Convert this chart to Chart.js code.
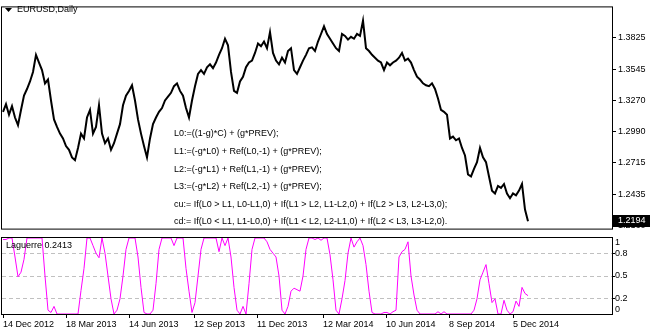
<!DOCTYPE html>
<html><head><meta charset="utf-8">
<script src="https://cdn.jsdelivr.net/npm/chart.js@4.4.1/dist/chart.umd.min.js"></script>
<style>
html,body{margin:0;padding:0;background:#fff;overflow:hidden}
#wrap{position:relative;width:650px;height:330px;background:#fff}
canvas{position:absolute;left:0}
#c1{top:0}
#c2{top:236px}
</style></head><body>
<div id="wrap"><canvas id="c1" width="650" height="236"></canvas><canvas id="c2" width="650" height="94"></canvas></div>
<script>
const symbolTitle = 'EURUSD,Daily';
const indicatorName = 'Laguerre';
const barStep = 3;
const closePrices = [
1.3165,1.3233,1.3140,1.3216,1.3115,1.3047,1.3182,1.3309,1.3368,1.3435,
1.3519,1.3671,1.3603,1.3536,1.3418,1.3452,1.3266,1.3098,1.3031,1.2972,
1.2929,1.2862,1.2828,1.2761,1.2736,1.2845,1.2972,1.2929,1.3115,1.3182,
1.2972,1.3031,1.3224,1.2972,1.2887,1.2929,1.2828,1.2887,1.2972,1.3056,
1.3224,1.3309,1.3351,1.3401,1.3266,1.3098,1.2972,1.2862,1.2761,1.2929,
1.3056,1.3115,1.3165,1.3199,1.3266,1.3300,1.3334,1.3393,1.3418,1.3351,
1.3309,1.3199,1.3115,1.3266,1.3393,1.3502,1.3536,1.3502,1.3561,1.3587,
1.3553,1.3603,1.3671,1.3730,1.3814,1.3755,1.3519,1.3351,1.3334,1.3435,
1.3477,1.3561,1.3603,1.3620,1.3688,1.3772,1.3747,1.3789,1.3730,1.3873,
1.3688,1.3620,1.3587,1.3646,1.3603,1.3705,1.3730,1.3536,1.3502,1.3561,
1.3620,1.3671,1.3730,1.3738,1.3705,1.3789,1.3856,1.3924,1.3856,1.3814,
1.3772,1.3730,1.3705,1.3856,1.3839,1.3806,1.3831,1.3814,1.3856,1.3839,
1.3974,1.3730,1.3705,1.3671,1.3646,1.3620,1.3603,1.3536,1.3603,1.3578,
1.3603,1.3620,1.3646,1.3688,1.3620,1.3637,1.3603,1.3536,1.3477,1.3452,
1.3418,1.3401,1.3393,1.3418,1.3368,1.3283,1.3182,1.3165,1.3140,1.2929,
1.2946,1.2913,1.2929,1.2845,1.2778,1.2609,1.2592,1.2660,1.2719,1.2845,
1.2761,1.2719,1.2592,1.2466,1.2441,1.2508,1.2491,1.2525,1.2441,1.2399,
1.2441,1.2424,1.2466,1.2525,1.2298,1.2194];
const laguerre = [
0.98,0.98,1,1,0.75,0.49,0.55,0.72,1,1,
1,1,1,1,0.5,0.05,0.02,0.1,0,0,
0,0,0,0,0,0,0.31,0.6,1,1,
0.9,0.8,0.74,1,0.8,0.5,0.2,0,0.05,0.2,
0.5,0.85,1,1,1,0.75,0.35,0.02,0,0,
0.05,0.4,0.85,1,1,1,1,0.9,1,1,
1,0.6,0.3,0.02,0.15,0.5,0.85,1,1,1,
1,1,0.82,1,0.9,1,0.75,0.35,0.05,0,
0.1,0,0.4,0.85,1,1,1,1,0.95,0.85,
0.8,0.75,0.5,0.05,0,0.1,0.3,0.34,0.32,0.3,
0.5,0.85,1,1,0.98,1,0.97,1,1,0.78,
0.45,0.05,0,0.2,0.44,0.8,1,0.88,0.95,1,
0.9,0.65,0.3,0.02,0,0,0,0.02,0.02,0,
0.03,0.05,0.75,0.82,0.85,0.95,0.5,0.25,0.05,0,
0,0,0,0,0,0.03,0,0.03,0,0,
0,0,0,0,0,0,0,0.05,0.2,0.45,
0.55,0.65,0.4,0.15,0.2,0,0,0.18,0.05,0,
0.03,0.17,0.1,0.35,0.27,0.2413];
const priceTicks = [1.2160,1.2435,1.2715,1.2990,1.3270,1.3545,1.3825];
const levelTicks = [0,0.2,0.5,0.8,1];
const dateTickBars = [0,63,126,191,254,320,383,446,510];
const dateTickLabels = ['14 Dec 2012','18 Mar 2013','14 Jun 2013','12 Sep 2013','11 Dec 2013','12 Mar 2014','10 Jun 2014','8 Sep 2014','5 Dec 2014'];
const formulaLines = [
'L0:=((1-g)*C) + (g*PREV);',
'L1:=(-g*L0) + Ref(L0,-1) + (g*PREV);',
'L2:=(-g*L1) + Ref(L1,-1) + (g*PREV);',
'L3:=(-g*L2) + Ref(L2,-1) + (g*PREV);',
'cu:= If(L0 > L1, L0-L1,0) + If(L1 > L2, L1-L2,0) + If(L2 > L3, L2-L3,0);',
'cd:= If(L0 < L1, L1-L0,0) + If(L1 < L2, L2-L1,0) + If(L2 < L3, L3-L2,0).'
];

const FONT = '"Liberation Sans", Arial, sans-serif';
const FS = 9;
const pricePts = closePrices.map((v,i)=>({x:i*barStep, y:v}));
const lagPts = laguerre.map((v,i)=>({x:i*barStep, y:v}));

function frame(ctx, a){
  ctx.save();
  ctx.strokeStyle='#000'; ctx.lineWidth=1;
  ctx.strokeRect(a.left-0.5, a.top-0.5, a.right-a.left+1, a.bottom-a.top+1);
  ctx.restore();
}

const mainPlugin = {
  id:'mainDeco',
  afterDraw(chart){
    const ctx=chart.ctx, a=chart.chartArea, ys=chart.scales.y;
    frame(ctx,a);
    ctx.save();
    ctx.fillStyle='#000';
    ctx.beginPath(); ctx.moveTo(5,8); ctx.lineTo(12,8); ctx.lineTo(8.5,12); ctx.closePath(); ctx.fill();
    ctx.font = FS+'px '+FONT; ctx.textBaseline='middle'; ctx.textAlign='left';
    ctx.fillText(symbolTitle, 17, 10);
    const fy=[134,152,169.5,187,204.5,221.5];
    formulaLines.forEach((t,i)=>ctx.fillText(t,174,fy[i]));
    const last = closePrices[closePrices.length-1];
    const py = ys.getPixelForValue(last);
    ctx.fillStyle='#000';
    ctx.fillRect(a.right+1, Math.round(py)-6, 40, 12);
    ctx.fillStyle='#fff';
    ctx.fillText(last.toFixed(4), 618, Math.round(py));
    ctx.restore();
  }
};

new Chart(document.getElementById('c1'), {
  type:'line',
  data:{datasets:[{data:pricePts, borderColor:'#000', borderWidth:2, pointRadius:0, tension:0, fill:false, borderJoinStyle:'miter'}]},
  options:{
    responsive:false, animation:false, events:[],
    layout:{padding:{left:2, top:2, right:0, bottom:1}},
    plugins:{legend:{display:false}, tooltip:{enabled:false}},
    scales:{
      x:{type:'linear', min:-1, max:609, display:false},
      y:{type:'linear', position:'right', min:1.21291, max:1.40921,
         afterBuildTicks:s=>{s.ticks=priceTicks.map(v=>({value:v}));},
         afterFit:s=>{s.width=38;},
         grid:{drawOnChartArea:false, drawTicks:true, tickLength:4, tickColor:'#000'},
         border:{display:false},
         ticks:{padding:2, color:'#000', font:{family:FONT, size:FS}, callback:v=>Number(v).toFixed(4), autoSkip:false}
      }
    }
  },
  plugins:[mainPlugin]
});

const subPlugin = {
  id:'subDeco',
  afterDraw(chart){
    const ctx=chart.ctx, a=chart.chartArea, ys=chart.scales.y;
    frame(ctx,a);
    ctx.save();
    ctx.fillStyle='#000';
    ctx.font = FS+'px '+FONT; ctx.textBaseline='middle'; ctx.textAlign='left';
    ctx.fillText(indicatorName+' '+laguerre[laguerre.length-1].toFixed(4), 6, 9.7);
    levelTicks.forEach(v=>{
      let y=ys.getPixelForValue(v);
      y=Math.max(a.top+5, Math.min(a.bottom-4, y));
      ctx.fillText(String(v), 615, y);
    });
    ctx.restore();
  }
};

new Chart(document.getElementById('c2'), {
  type:'line',
  data:{datasets:[{data:lagPts, borderColor:'#ff00ff', borderWidth:1, pointRadius:0, tension:0, fill:false}]},
  options:{
    responsive:false, animation:false, events:[],
    layout:{padding:{left:2, top:2, right:0, bottom:0}},
    plugins:{legend:{display:false}, tooltip:{enabled:false}},
    scales:{
      x:{type:'linear', min:-1, max:609, position:'bottom',
         afterBuildTicks:s=>{s.ticks=dateTickBars.map(v=>({value:v}));},
         afterFit:s=>{s.height=16;},
         grid:{drawOnChartArea:false, drawTicks:true, tickLength:4, tickColor:'#000'},
         border:{display:false},
         ticks:{align:'start', padding:1, maxRotation:0, autoSkip:false, color:'#000', font:{family:FONT, size:FS},
                callback:(v,i)=>dateTickLabels[i]}
      },
      y:{type:'linear', position:'right', min:0, max:1,
         afterBuildTicks:s=>{s.ticks=levelTicks.map(v=>({value:v}));},
         afterFit:s=>{s.width=38;},
         grid:{drawOnChartArea:true, drawTicks:true, tickLength:3,
               color:c=>(c.tick && c.tick.value>0 && c.tick.value<1)?'#c0c0c0':'rgba(0,0,0,0)',
               tickColor:c=>(c.tick && c.tick.value>0 && c.tick.value<1)?'#000':'rgba(0,0,0,0)'},
         border:{display:false, dash:[4,3]},
         ticks:{display:false}
      }
    }
  },
  plugins:[subPlugin]
});
</script>
</body></html>
